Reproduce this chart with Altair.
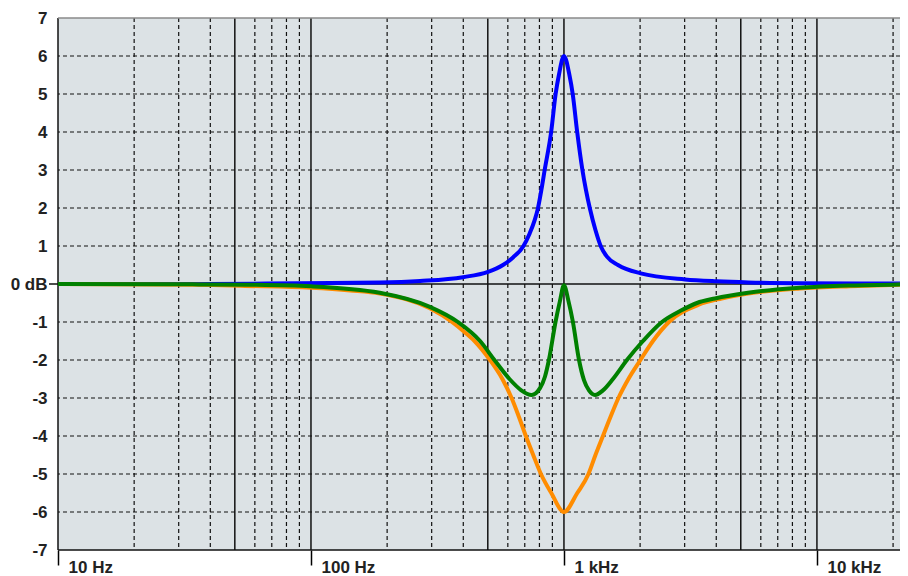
import altair as alt
import pandas as pd

# ---- data ----
blue_freq = [10, 36, 90, 187, 270, 399, 501, 574, 629, 689, 732, 766, 789, 814, 839, 890, 927, 955,
             1000, 1051, 1083, 1128, 1183, 1222, 1267, 1332, 1401, 1479, 1635, 2011, 3008, 4020,
             5349, 8568, 21300]
blue_db = [0, 0, 0.02, 0.04, 0.08, 0.18, 0.32, 0.5, 0.7, 0.98, 1.33, 1.68, 1.99, 2.47, 3.0, 4.0, 5.0, 5.5,
           6.0, 5.5, 5.0, 4.0, 3.0, 2.47, 1.98, 1.42, 0.98, 0.72, 0.5, 0.28, 0.12, 0.07,
           0.04, 0.02, 0.01]

orange_freq = [10, 36, 55, 100, 143, 187, 295, 361, 402, 443, 510, 571, 621, 664, 707, 756, 811, 891,
               1000, 1129, 1250, 1332, 1426, 1527, 1642, 1798, 2006, 2248, 2600, 3395, 4201, 5349,
               8568, 13500, 21300]
orange_db = [0, -0.02, -0.05, -0.1, -0.17, -0.25, -0.64, -1.0, -1.25, -1.5, -2.0, -2.5, -3.0, -3.5, -4.0, -4.5, -5.0, -5.5,
             -6.0, -5.5, -5.0, -4.5, -4.0, -3.5, -3.0, -2.5, -2.0, -1.5, -1.0, -0.55, -0.38, -0.25,
             -0.12, -0.06, -0.02]

green_freq = [10, 36, 57, 100, 187, 295, 381, 466, 531, 609, 676, 745, 804, 841, 872, 926, 964,
              1000, 1042, 1085, 1147, 1200, 1256, 1326, 1426, 1562, 1774, 2053, 2440, 2901, 3356, 3953,
              5337, 8568, 13500, 21300]
green_db = [0, -0.01, -0.02, -0.06, -0.23, -0.6, -1.0, -1.5, -2.0, -2.5, -2.79, -2.92, -2.74, -2.44, -2.0, -1.0, -0.45,
            -0.03, -0.45, -1.0, -2.0, -2.53, -2.8, -2.92, -2.8, -2.5, -2.0, -1.5, -1.0, -0.7, -0.5, -0.38,
            -0.23, -0.1, -0.04, -0.01]

major_lines = [10, 50, 100, 500, 1000, 5000, 10000]
minor_lines = [20, 30, 40, 60, 70, 80, 90, 200, 300, 400, 600, 700, 800, 900,
               2000, 3000, 4000, 6000, 7000, 8000, 9000, 20000]
db_grid = [-6, -5, -4, -3, -2, -1, 1, 2, 3, 4, 5, 6]
db_ticks = [-7, -6, -5, -4, -3, -2, -1, 0, 1, 2, 3, 4, 5, 6, 7]
x_ticks = [10, 100, 1000, 10000]

FONT = "Liberation Sans"

xscale = alt.Scale(type="log", domain=[10, 21300], nice=False)
yscale = alt.Scale(domain=[-7, 7], nice=False, zero=False)

xaxis = alt.Axis(
    values=x_ticks,
    labelExpr="datum.value >= 1000 ? (datum.value / 1000) + ' kHz' : datum.value + ' Hz'",
    tickSize=15, tickColor="black", tickWidth=1.5, domain=False, grid=False,
    labelAlign="left", labelOffset=10, labelBaseline="alphabetic", labelPadding=7,
    labelFont=FONT, labelFontSize=17, labelFontWeight="bold", labelColor="#222",
    labelFlush=False, labelOverlap=False, title=None,
)
yaxis = alt.Axis(
    values=db_ticks,
    labelExpr="datum.value == 0 ? '0 dB' : '' + datum.value",
    ticks=False, domain=False, grid=False, labelPadding=11,
    labelFont=FONT, labelFontSize=17, labelFontWeight="bold", labelColor="#222",
    labelFlush=False, labelOverlap=False, title=None,
)


def xenc(field):
    return alt.X(f"{field}:Q", scale=xscale, axis=xaxis, title=None)


def yenc(field):
    return alt.Y(f"{field}:Q", scale=yscale, axis=yaxis, title=None)


minor_v = alt.Chart(pd.DataFrame({"f": minor_lines})).mark_rule(
    color="#111", strokeWidth=1.2, strokeDash=[4, 3]
).encode(x=xenc("f"))

grid_h = alt.Chart(pd.DataFrame({"db": db_grid})).mark_rule(
    color="#111", strokeWidth=1.2, strokeDash=[4, 3]
).encode(y=yenc("db"))

major_v = alt.Chart(pd.DataFrame({"f": major_lines})).mark_rule(
    color="#111", strokeWidth=1.5
).encode(x=xenc("f"))

zero_h = alt.Chart(pd.DataFrame({"db": [0]})).mark_rule(
    color="#111", strokeWidth=1.5
).encode(y=yenc("db"))

bottom_h = alt.Chart(pd.DataFrame({"db": [-7]})).mark_rule(
    color="#111", strokeWidth=1.5
).encode(y=yenc("db"))

top_h = alt.Chart(pd.DataFrame({"db": [7]})).mark_rule(
    color="#8a8a8a", strokeWidth=1.5
).encode(y=yenc("db"))

zero_tick = alt.Chart(pd.DataFrame({"db": [0]})).mark_rule(
    color="#111", strokeWidth=1.5
).encode(y=yenc("db"), x=alt.value(-9), x2=alt.value(0))


def curve(freqs, dbs, color):
    df = pd.DataFrame({"f": freqs, "db": dbs})
    return alt.Chart(df).mark_line(
        color=color, strokeWidth=4, interpolate="monotone", clip=True
    ).encode(x=xenc("f"), y=yenc("db"))


blue = curve(blue_freq, blue_db, "#0000ff")
orange = curve(orange_freq, orange_db, "#ff8c00")
green = curve(green_freq, green_db, "#008000")

chart = alt.layer(
    minor_v, grid_h, major_v, zero_h, bottom_h, top_h, zero_tick, blue, orange, green
).properties(
    width=842, height=532,
    padding={"left": 50, "top": 10, "right": 0, "bottom": 30},
    autosize=alt.AutoSizeParams(type="none"),
    background="white",
).configure_view(fill="#dce2e5", stroke=None)

chart.save("out.html", embed_options={"renderer": "svg", "actions": False})
